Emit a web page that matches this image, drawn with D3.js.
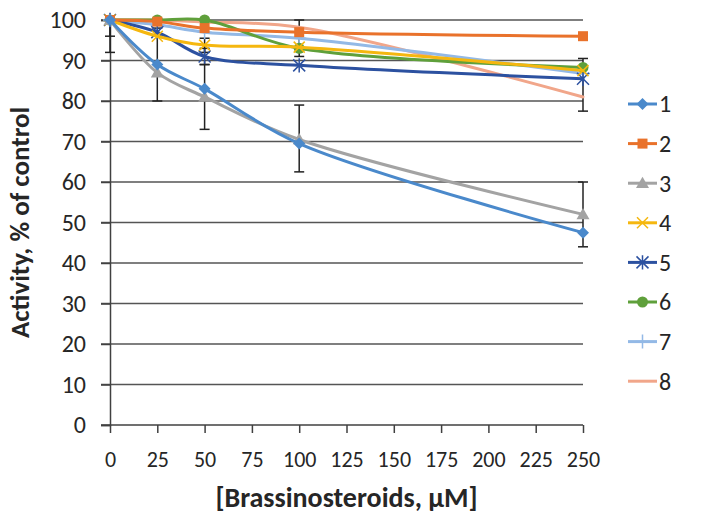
<!DOCTYPE html>
<html>
<head>
<meta charset="utf-8">
<script src="https://cdn.jsdelivr.net/npm/d3@7"></script>
<style>
  html, body { margin: 0; padding: 0; background: #fff; }
  svg { display: block; }
  text { font-family: Carlito, Lato, "Open Sans", sans-serif; fill: #262626; }
</style>
</head>
<body>
<svg id="chart" width="711" height="514"></svg>
<script>
// Concentrations (µM)
const doses = [0, 25, 50, 100, 250];

// Activity, % of control, for each compound
const s1 = [100, 89, 83, 69.5, 47.5];
const s2 = [100, 99.6, 98, 97, 96];
const s3 = [100, 87, 81, 70.5, 52];
const s4 = [100, 96, 93.8, 93.3, 87.5];
const s5 = [100, 97, 91, 88.8, 85.5];
const s6 = [100, 100, 100, 93, 88.3];
const s7 = [100, 98.8, 97, 95.5, 86.8];
const s8 = [100, 100, 99.5, 98.2, 81];

const seriesNames = ["1", "2", "3", "4", "5", "6", "7", "8"];
const seriesValues = [s1, s2, s3, s4, s5, s6, s7, s8];
const seriesColors = ["#4a89cb", "#e9722b", "#a3a3a3", "#f5b70f", "#2c51a0", "#5fa03b", "#93b9e6", "#f1a68a"];
const seriesMarkers = ["diamond", "square", "triangle", "x", "asterisk", "circle", "plus", "none"];

// Error bars: dose, lower and upper bound
const errDose = [0, 0, 25, 50, 50, 50, 100, 100, 250, 250];
const errLow  = [92, 96, 80, 73, 89, 92, 62.5, 91, 44, 77.5];
const errHigh = [100, 100, 98, 89, 93, 95.5, 79, 100, 60, 90.5];

const yTicks = [0, 10, 20, 30, 40, 50, 60, 70, 80, 90, 100];
const xTicks = [0, 25, 50, 75, 100, 125, 150, 175, 200, 225, 250];

const FONT = "Carlito, Lato, 'Open Sans', sans-serif";
const svg = d3.select("#chart");
const x = d3.scaleLinear().domain([0, 250]).range([110, 583]);
const y = d3.scaleLinear().domain([0, 100]).range([425, 20]);

// Horizontal gridlines with outer tick stubs
svg.append("g").selectAll("line").data(yTicks.slice(1)).join("line")
  .attr("x1", x(0) - 9).attr("x2", x(250))
  .attr("y1", d => y(d)).attr("y2", d => y(d))
  .attr("stroke", "#555").attr("stroke-width", 1.5);

// Y axis
const yAxis = svg.append("g").attr("transform", `translate(${x(0)},0)`)
  .call(d3.axisLeft(y).tickValues(yTicks).tickSize(9).tickPadding(15));
yAxis.select(".domain").attr("stroke", "#404040").attr("stroke-width", 1.5);
yAxis.selectAll(".tick line").attr("stroke", "#404040").attr("stroke-width", 1.5);
yAxis.selectAll("text").attr("font-size", 24).attr("fill", "#262626").style("font-family", FONT);

// X axis
const xAxis = svg.append("g").attr("transform", `translate(0,${y(0)})`)
  .call(d3.axisBottom(x).tickValues(xTicks).tickSize(8).tickSizeOuter(0).tickPadding(18));
xAxis.select(".domain").attr("stroke", "#404040").attr("stroke-width", 1.5).attr("d", `M${x(0) - 9},0H${x(250)}`);
xAxis.selectAll(".tick line").attr("stroke", "#404040").attr("stroke-width", 1.5);
xAxis.selectAll("text").attr("font-size", 22).attr("fill", "#262626").style("font-family", FONT);

// Axis titles
svg.append("text")
  .attr("transform", `translate(29,${(y(0) + y(100)) / 2}) rotate(-90)`)
  .attr("text-anchor", "middle").attr("font-size", 27).attr("font-weight", "bold")
  .text("Activity, % of control");
svg.append("text")
  .attr("x", (x(0) + x(250)) / 2).attr("y", 507)
  .attr("text-anchor", "middle").attr("font-size", 28).attr("font-weight", "bold")
  .text("[Brassinosteroids, µM]");

// Marker shapes
function drawMarker(g, type, cx, cy, color, scale) {
  const s = scale || 1;
  if (type === "diamond") {
    const r = 6 * s;
    g.append("path").attr("d", `M${cx},${cy - r}L${cx + r},${cy}L${cx},${cy + r}L${cx - r},${cy}Z`).attr("fill", color);
  } else if (type === "square") {
    const r = 5 * s;
    g.append("rect").attr("x", cx - r).attr("y", cy - r).attr("width", 2 * r).attr("height", 2 * r).attr("fill", color);
  } else if (type === "triangle") {
    const r = 6.5 * s;
    g.append("path").attr("d", `M${cx},${cy - r}L${cx + r},${cy + r * 0.75}L${cx - r},${cy + r * 0.75}Z`).attr("fill", color);
  } else if (type === "circle") {
    g.append("circle").attr("cx", cx).attr("cy", cy).attr("r", 5.5 * s).attr("fill", color);
  } else if (type === "x") {
    const r = 5.5 * s;
    g.append("path").attr("d", `M${cx - r},${cy - r}L${cx + r},${cy + r}M${cx - r},${cy + r}L${cx + r},${cy - r}`)
      .attr("stroke", color).attr("stroke-width", 1.5);
  } else if (type === "asterisk") {
    const r = 6 * s;
    g.append("path").attr("d", `M${cx - r},${cy - r}L${cx + r},${cy + r}M${cx - r},${cy + r}L${cx + r},${cy - r}M${cx},${cy - r * 1.2}L${cx},${cy + r * 1.2}`)
      .attr("stroke", color).attr("stroke-width", 1.5);
  } else if (type === "plus") {
    const r = 7 * s;
    g.append("path").attr("d", `M${cx - r},${cy}L${cx + r},${cy}M${cx},${cy - r}L${cx},${cy + r}`)
      .attr("stroke", color).attr("stroke-width", 1.5);
  }
}

// Error bars
const eb = svg.append("g").attr("stroke", "#222").attr("stroke-width", 1.5);
errDose.forEach((d, i) => {
  const cx = x(d);
  eb.append("line").attr("x1", cx).attr("x2", cx).attr("y1", y(errLow[i])).attr("y2", y(errHigh[i]));
  eb.append("line").attr("x1", cx - 5).attr("x2", cx + 5).attr("y1", y(errLow[i])).attr("y2", y(errLow[i]));
  eb.append("line").attr("x1", cx - 5).attr("x2", cx + 5).attr("y1", y(errHigh[i])).attr("y2", y(errHigh[i]));
});

// Smoothed series lines and markers
const line = d3.line().x(d => x(d[0])).y(d => y(d[1])).curve(d3.curveCatmullRom.alpha(0.5));
const drawOrder = [7, 6, 5, 4, 3, 1, 2, 0];
drawOrder.forEach(i => {
  const pts = doses.map((d, j) => [d, seriesValues[i][j]]);
  const g = svg.append("g");
  g.append("path").datum(pts).attr("d", line)
    .attr("fill", "none").attr("stroke", seriesColors[i]).attr("stroke-width", 3)
    .attr("stroke-linejoin", "round").attr("stroke-linecap", "round");
  pts.forEach(p => drawMarker(g, seriesMarkers[i], x(p[0]), y(p[1]), seriesColors[i]));
});

// Legend
const legend = svg.append("g");
seriesNames.forEach((name, i) => {
  const ly = 104 + i * 39.6;
  const g = legend.append("g");
  g.append("line").attr("x1", 628).attr("x2", 657).attr("y1", ly).attr("y2", ly)
    .attr("stroke", seriesColors[i]).attr("stroke-width", 3);
  drawMarker(g, seriesMarkers[i], 642.5, ly, seriesColors[i]);
  g.append("text").attr("x", 659).attr("y", ly).attr("dy", "0.35em")
    .attr("font-size", 24).style("font-family", FONT).text(name);
});
</script>
</body>
</html>
